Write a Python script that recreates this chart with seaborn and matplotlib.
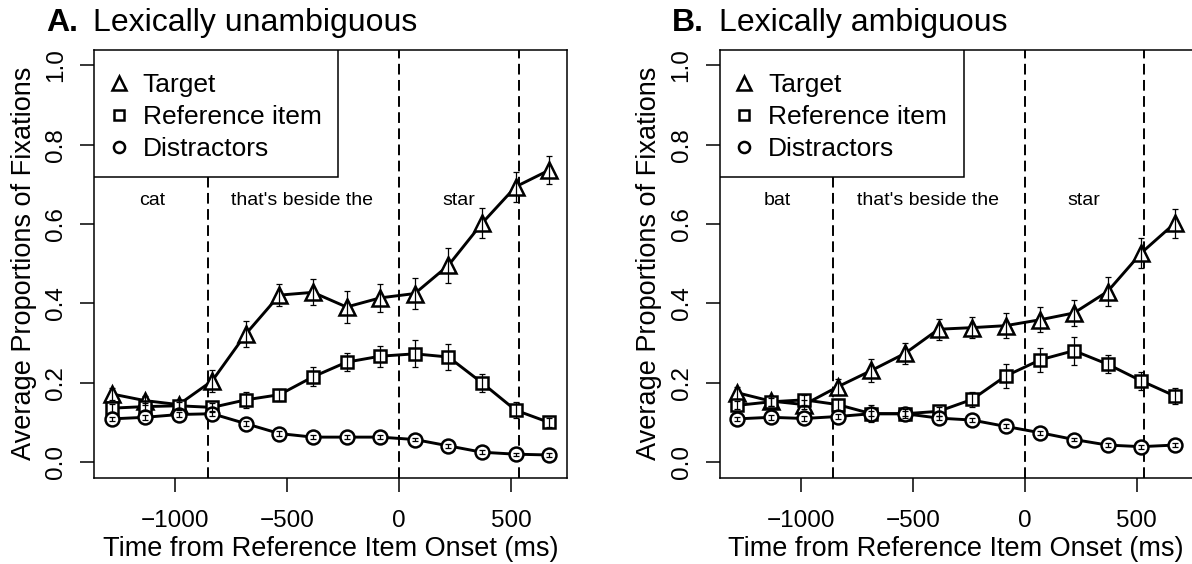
import pandas as pd
import matplotlib
matplotlib.use("Agg")
import matplotlib.pyplot as plt
from matplotlib.lines import Line2D
from matplotlib.patches import Rectangle
import seaborn as sns

# time bins (ms, relative to reference item onset)
times = [-1285, -1135, -985, -835, -685, -535, -385, -235, -85, 70, 220, 370, 520, 670]

# A. Lexically unambiguous
a_target = [0.172, 0.155, 0.145, 0.205, 0.323, 0.421, 0.428, 0.391, 0.414, 0.425, 0.496, 0.602, 0.694, 0.736]
a_target_err = [0.015, 0.012, 0.012, 0.027, 0.034, 0.027, 0.033, 0.04, 0.036, 0.04, 0.044, 0.038, 0.038, 0.036]
a_ref = [0.136, 0.14, 0.142, 0.138, 0.157, 0.17, 0.215, 0.252, 0.267, 0.273, 0.265, 0.2, 0.131, 0.1]
a_ref_err = [0.01, 0.01, 0.01, 0.012, 0.02, 0.015, 0.024, 0.023, 0.026, 0.034, 0.034, 0.023, 0.02, 0.012]
a_dist = [0.109, 0.113, 0.12, 0.122, 0.097, 0.072, 0.063, 0.063, 0.063, 0.057, 0.041, 0.025, 0.02, 0.018]
a_dist_err = [0.006, 0.006, 0.006, 0.006, 0.006, 0.006, 0.005, 0.005, 0.005, 0.005, 0.005, 0.005, 0.004, 0.004]

# B. Lexically ambiguous
b_target = [0.175, 0.154, 0.145, 0.19, 0.231, 0.274, 0.335, 0.339, 0.344, 0.359, 0.376, 0.43, 0.527, 0.602]
b_target_err = [0.015, 0.012, 0.012, 0.02, 0.03, 0.027, 0.027, 0.027, 0.032, 0.032, 0.033, 0.036, 0.037, 0.036]
b_ref = [0.143, 0.152, 0.157, 0.145, 0.122, 0.122, 0.128, 0.158, 0.217, 0.258, 0.281, 0.247, 0.205, 0.167]
b_ref_err = [0.01, 0.01, 0.012, 0.015, 0.022, 0.012, 0.012, 0.02, 0.03, 0.03, 0.035, 0.023, 0.023, 0.02]
b_dist = [0.109, 0.113, 0.11, 0.115, 0.122, 0.122, 0.111, 0.106, 0.09, 0.074, 0.057, 0.043, 0.039, 0.043]
b_dist_err = [0.006, 0.006, 0.006, 0.006, 0.006, 0.006, 0.006, 0.006, 0.005, 0.005, 0.005, 0.005, 0.005, 0.005]

series_names = ["Target", "Reference item", "Distractors"]
word_onsets = [-855, 0, 535]
words_a = ["cat", "that's beside the", "star"]
words_b = ["bat", "that's beside the", "star"]
word_x = [-1105, -432, 266]

sns.set_style("ticks")
plt.rcParams['font.family'] = ['Liberation Sans', 'DejaVu Sans']
plt.rcParams.update({"text.color": "black", "axes.labelcolor": "black",
                     "xtick.color": "black", "ytick.color": "black",
                     "axes.edgecolor": "black"})

fig = plt.figure(figsize=(11.92, 5.64), dpi=100)
ax_a = fig.add_axes([0.0789, 0.1525, 0.3968, 0.7596])
ax_b = fig.add_axes([0.6037, 0.1525, 0.3968, 0.7596])

markers = {"Target": ("^", 12), "Reference item": ("s", 9), "Distractors": ("o", 10)}


def draw_panel(ax, target, target_err, ref, ref_err, dist, dist_err, words):
    rows = []
    for name, vals, errs in [("Target", target, target_err),
                             ("Reference item", ref, ref_err),
                             ("Distractors", dist, dist_err)]:
        for t, v, e in zip(times, vals, errs):
            rows.append({"time": t, "prop": v, "err": e, "series": name})
    df = pd.DataFrame(rows)

    for name in series_names:
        d = df[df["series"] == name]
        mk, ms = markers[name]
        sns.lineplot(data=d, x="time", y="prop", ax=ax, color="black", lw=2.1,
                     marker=mk, markersize=ms, markerfacecolor="white",
                     markeredgecolor="black", markeredgewidth=1.8, zorder=3)
        ax.errorbar(d["time"], d["prop"], yerr=d["err"], fmt="none", ecolor="black",
                    elinewidth=0.9, capsize=2.5, capthick=0.9, zorder=4)

    for x in word_onsets:
        ax.axvline(x, color="black", lw=1.4, ls=(0, (5.5, 2.8)), zorder=1)
    for x, w in zip(word_x, words):
        ax.text(x, 0.649, w, ha="center", va="baseline", fontsize=14)

    ax.set_xlim(-1363, 750)
    ax.set_ylim(-0.04, 1.04)
    ax.set_xticks([-1000, -500, 0, 500])
    ax.set_xticklabels(["\u22121000", "\u2212500", "0", "500"])
    ax.set_yticks([0.0, 0.2, 0.4, 0.6, 0.8, 1.0])
    ax.set_yticklabels(["0.0", "0.2", "0.4", "0.6", "0.8", "1.0"], rotation=90, va="center")
    ax.tick_params(axis="both", length=10, width=1.1, labelsize=17.5,
                   color="black", labelcolor="black")
    ax.tick_params(axis="x", pad=13)
    ax.tick_params(axis="y", pad=9.5)
    for sp in ax.spines.values():
        sp.set_visible(True)
        sp.set_linewidth(1.1)
        sp.set_color("black")
    ax.set_xlabel("Time from Reference Item Onset (ms)", fontsize=19.5, labelpad=3)
    ax.set_ylabel("Average Proportions of Fixations", fontsize=19.5, labelpad=6)

    # legend box drawn separately, as in the original (top-left, square)
    box = Rectangle((0, 0.7026), 0.516, 0.2974, transform=ax.transAxes,
                    facecolor="white", edgecolor="black", lw=1.1, zorder=8)
    ax.add_patch(box)
    handles = [Line2D([], [], ls="none", marker=markers[n][0], markersize=markers[n][1] * 0.8,
                      markerfacecolor="white", markeredgecolor="black", markeredgewidth=1.8)
               for n in series_names]
    leg = ax.legend(handles, series_names, loc="upper left", fontsize=19, frameon=False,
                    bbox_to_anchor=(0, 1), borderaxespad=0, borderpad=0.9,
                    labelspacing=0.3, handlelength=0.06, handletextpad=0.88)
    leg.set_zorder(10)


draw_panel(ax_a, a_target, a_target_err, a_ref, a_ref_err, a_dist, a_dist_err, words_a)
draw_panel(ax_b, b_target, b_target_err, b_ref, b_ref_err, b_dist, b_dist_err, words_b)

fig.text(0.0386, 0.9457, "A.", fontsize=23, fontweight="bold", va="baseline")
fig.text(0.0780, 0.9457, "Lexically unambiguous", fontsize=23, va="baseline")
fig.text(0.5638, 0.9457, "B.", fontsize=23, fontweight="bold", va="baseline")
fig.text(0.6030, 0.9457, "Lexically ambiguous", fontsize=23, va="baseline")

fig.savefig("out.png", dpi=100)
